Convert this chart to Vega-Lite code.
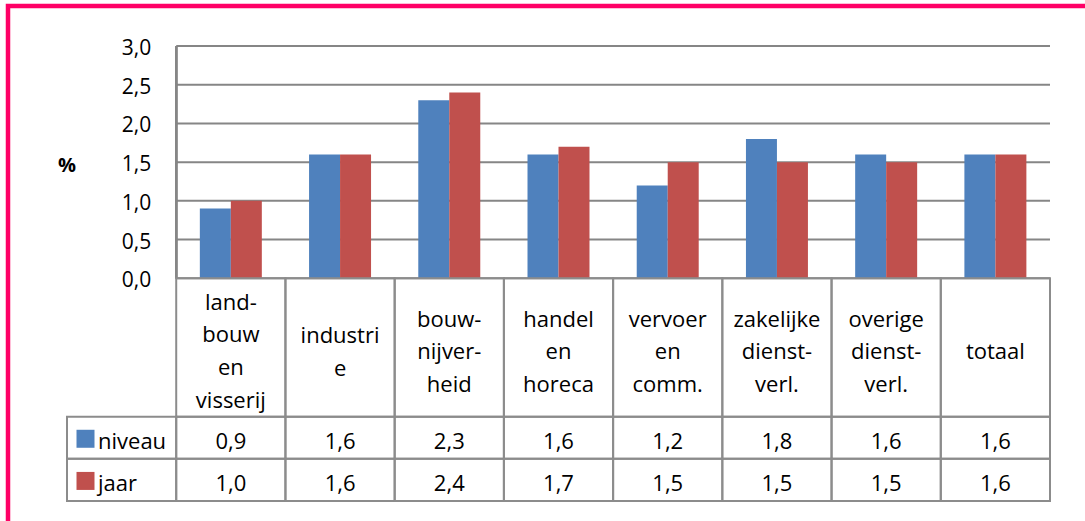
{
  "$schema": "https://vega.github.io/schema/vega-lite/v6.json",
  "width": 1087,
  "height": 525,
  "autosize": {"type": "none"},
  "padding": {"left": 8, "top": 6, "right": -10, "bottom": -10},
  "background": "white",
  "config": {
    "font": "Open Sans",
    "view": {"stroke": "#FF0066", "strokeWidth": 4.5},
    "locale": {"number": {"decimal": ",", "thousands": ".", "grouping": [3], "currency": ["€", ""]}}
  },
  "datasets": {
    "bars": [
      {"cat": "landbouw", "series": "niveau", "value": 0.9},
      {"cat": "landbouw", "series": "jaar", "value": 1.0},
      {"cat": "industrie", "series": "niveau", "value": 1.6},
      {"cat": "industrie", "series": "jaar", "value": 1.6},
      {"cat": "bouw", "series": "niveau", "value": 2.3},
      {"cat": "bouw", "series": "jaar", "value": 2.4},
      {"cat": "handel", "series": "niveau", "value": 1.6},
      {"cat": "handel", "series": "jaar", "value": 1.7},
      {"cat": "vervoer", "series": "niveau", "value": 1.2},
      {"cat": "vervoer", "series": "jaar", "value": 1.5},
      {"cat": "zakelijk", "series": "niveau", "value": 1.8},
      {"cat": "zakelijk", "series": "jaar", "value": 1.5},
      {"cat": "overig", "series": "niveau", "value": 1.6},
      {"cat": "overig", "series": "jaar", "value": 1.5},
      {"cat": "totaal", "series": "niveau", "value": 1.6},
      {"cat": "totaal", "series": "jaar", "value": 1.6}
    ],
    "cats": [
      {"cat": "landbouw", "label": "land-\nbouw\nen\nvisserij"},
      {"cat": "industrie", "label": "industri\ne"},
      {"cat": "bouw", "label": "bouw-\nnijver-\nheid"},
      {"cat": "handel", "label": "handel\nen\nhoreca"},
      {"cat": "vervoer", "label": "vervoer\nen\ncomm."},
      {"cat": "zakelijk", "label": "zakelijke\ndienst-\nverl."},
      {"cat": "overig", "label": "overige\ndienst-\nverl."},
      {"cat": "totaal", "label": "totaal"}
    ],
    "grid": [{"g": 0}, {"g": 0.5}, {"g": 1.0}, {"g": 1.5}, {"g": 2.0}, {"g": 2.5}, {"g": 3.0}],
    "series": [{"series": "niveau"}, {"series": "jaar"}]
  },
  "resolve": {"scale": {"y": "independent"}},
  "layer": [
    {
      "data": {"name": "grid"},
      "mark": {"type": "rule", "color": "#868686", "strokeWidth": 2},
      "encoding": {
        "x": {"datum": "landbouw", "type": "nominal", "bandPosition": 0, "axis": null,
          "scale": {"type": "band", "domain": ["legend", "landbouw", "industrie", "bouw", "handel", "vervoer", "zakelijk", "overig", "totaal"], "paddingInner": 0, "paddingOuter": 0.4761, "align": 0.5673}},
        "x2": {"datum": "totaal", "bandPosition": 1},
        "y": {"field": "g", "type": "quantitative", "axis": null, "scale": {"type": "linear", "domain": [-3.2635, 3.5166], "nice": false, "zero": false}}
      }
    },
    {
      "data": {"name": "grid"},
      "mark": {"type": "rule", "color": "#868686", "strokeWidth": 2},
      "encoding": {
        "x": {"datum": "landbouw", "type": "nominal", "bandPosition": 0, "axis": null,
          "scale": {"type": "band", "domain": ["legend", "landbouw", "industrie", "bouw", "handel", "vervoer", "zakelijk", "overig", "totaal"], "paddingInner": 0, "paddingOuter": 0.4761, "align": 0.5673}},
        "y": {"datum": 0, "type": "quantitative", "axis": null, "scale": {"type": "linear", "domain": [-3.2635, 3.5166], "nice": false, "zero": false}},
        "y2": {"datum": 3}
      }
    },
    {
      "data": {"name": "bars"},
      "mark": {"type": "bar"},
      "encoding": {
        "x": {"field": "cat", "type": "nominal", "axis": null,
          "scale": {"type": "band", "domain": ["legend", "landbouw", "industrie", "bouw", "handel", "vervoer", "zakelijk", "overig", "totaal"], "paddingInner": 0, "paddingOuter": 0.4761, "align": 0.5673}},
        "xOffset": {"field": "series", "type": "nominal", "scale": {"domain": ["niveau", "jaar"], "paddingInner": 0, "paddingOuter": 0.762}},
        "y": {"field": "value", "type": "quantitative", "axis": null, "scale": {"type": "linear", "domain": [-3.2635, 3.5166], "nice": false, "zero": false}},
        "y2": {"datum": 0},
        "color": {"field": "series", "type": "nominal", "legend": null, "scale": {"domain": ["niveau", "jaar"], "range": ["#4F81BD", "#C0504D"]}}
      }
    },
    {
      "data": {"name": "grid"},
      "mark": {"type": "text", "align": "right", "baseline": "middle", "dx": -25, "dy": 3, "fontSize": 21, "color": "#000000"},
      "encoding": {
        "x": {"datum": "landbouw", "type": "nominal", "bandPosition": 0, "axis": null,
          "scale": {"type": "band", "domain": ["legend", "landbouw", "industrie", "bouw", "handel", "vervoer", "zakelijk", "overig", "totaal"], "paddingInner": 0, "paddingOuter": 0.4761, "align": 0.5673}},
        "y": {"field": "g", "type": "quantitative", "axis": null, "scale": {"type": "linear", "domain": [-3.2635, 3.5166], "nice": false, "zero": false}},
        "text": {"field": "g", "type": "quantitative", "format": ".1f"}
      }
    },
    {
      "data": {"values": [{"t": "%"}]},
      "mark": {"type": "text", "align": "center", "baseline": "middle", "dy": 4, "fontSize": 20, "fontWeight": "bold", "color": "#000000"},
      "encoding": {
        "x": {"datum": "legend", "type": "nominal", "bandPosition": 0, "axis": null,
          "scale": {"type": "band", "domain": ["legend", "landbouw", "industrie", "bouw", "handel", "vervoer", "zakelijk", "overig", "totaal"], "paddingInner": 0, "paddingOuter": 0.4761, "align": 0.5673}},
        "y": {"datum": 1.5, "type": "quantitative", "axis": null, "scale": {"type": "linear", "domain": [-3.2635, 3.5166], "nice": false, "zero": false}},
        "text": {"field": "t", "type": "nominal"}
      }
    },
    {
      "data": {"name": "cats"},
      "mark": {"type": "rect", "filled": false, "stroke": "#8c8c8c", "strokeWidth": 2},
      "encoding": {
        "x": {"field": "cat", "type": "nominal", "axis": null,
          "scale": {"type": "band", "domain": ["legend", "landbouw", "industrie", "bouw", "handel", "vervoer", "zakelijk", "overig", "totaal"], "paddingInner": 0, "paddingOuter": 0.4761, "align": 0.5673}},
        "y": {"datum": "header", "type": "nominal", "axis": null, "scale": {"type": "band", "domain": ["header"], "paddingInner": 0, "paddingOuter": 0, "range": [272.3, 410.7]}}
      }
    },
    {
      "data": {"name": "cats"},
      "transform": [{"filter": {"field": "cat", "oneOf": ["landbouw"]}}],
      "mark": {"type": "text", "align": "center", "baseline": "middle", "dy": -45, "fontSize": 22, "lineBreak": "\n", "lineHeight": 32.9, "color": "#000000"},
      "encoding": {
        "x": {"field": "cat", "type": "nominal", "axis": null,
          "scale": {"type": "band", "domain": ["legend", "landbouw", "industrie", "bouw", "handel", "vervoer", "zakelijk", "overig", "totaal"], "paddingInner": 0, "paddingOuter": 0.4761, "align": 0.5673}},
        "y": {"datum": "header", "type": "nominal", "axis": null, "scale": {"type": "band", "domain": ["header"], "paddingInner": 0, "paddingOuter": 0, "range": [272.3, 410.7]}},
        "text": {"field": "label", "type": "nominal"}
      }
    },
    {
      "data": {"name": "cats"},
      "transform": [{"filter": {"field": "cat", "oneOf": ["bouw", "handel", "vervoer", "zakelijk", "overig"]}}],
      "mark": {"type": "text", "align": "center", "baseline": "middle", "dy": -28, "fontSize": 22, "lineBreak": "\n", "lineHeight": 32.9, "color": "#000000"},
      "encoding": {
        "x": {"field": "cat", "type": "nominal", "axis": null,
          "scale": {"type": "band", "domain": ["legend", "landbouw", "industrie", "bouw", "handel", "vervoer", "zakelijk", "overig", "totaal"], "paddingInner": 0, "paddingOuter": 0.4761, "align": 0.5673}},
        "y": {"datum": "header", "type": "nominal", "axis": null, "scale": {"type": "band", "domain": ["header"], "paddingInner": 0, "paddingOuter": 0, "range": [272.3, 410.7]}},
        "text": {"field": "label", "type": "nominal"}
      }
    },
    {
      "data": {"name": "cats"},
      "transform": [{"filter": {"field": "cat", "oneOf": ["industrie"]}}],
      "mark": {"type": "text", "align": "center", "baseline": "middle", "dy": -11.5, "fontSize": 22, "lineBreak": "\n", "lineHeight": 32.9, "color": "#000000"},
      "encoding": {
        "x": {"field": "cat", "type": "nominal", "axis": null,
          "scale": {"type": "band", "domain": ["legend", "landbouw", "industrie", "bouw", "handel", "vervoer", "zakelijk", "overig", "totaal"], "paddingInner": 0, "paddingOuter": 0.4761, "align": 0.5673}},
        "y": {"datum": "header", "type": "nominal", "axis": null, "scale": {"type": "band", "domain": ["header"], "paddingInner": 0, "paddingOuter": 0, "range": [272.3, 410.7]}},
        "text": {"field": "label", "type": "nominal"}
      }
    },
    {
      "data": {"name": "cats"},
      "transform": [{"filter": {"field": "cat", "oneOf": ["totaal"]}}],
      "mark": {"type": "text", "align": "center", "baseline": "middle", "dy": 4, "fontSize": 22, "lineBreak": "\n", "lineHeight": 32.9, "color": "#000000"},
      "encoding": {
        "x": {"field": "cat", "type": "nominal", "axis": null,
          "scale": {"type": "band", "domain": ["legend", "landbouw", "industrie", "bouw", "handel", "vervoer", "zakelijk", "overig", "totaal"], "paddingInner": 0, "paddingOuter": 0.4761, "align": 0.5673}},
        "y": {"datum": "header", "type": "nominal", "axis": null, "scale": {"type": "band", "domain": ["header"], "paddingInner": 0, "paddingOuter": 0, "range": [272.3, 410.7]}},
        "text": {"field": "label", "type": "nominal"}
      }
    },
    {
      "data": {"name": "bars"},
      "mark": {"type": "rect", "filled": false, "stroke": "#8c8c8c", "strokeWidth": 2},
      "encoding": {
        "x": {"field": "cat", "type": "nominal", "axis": null,
          "scale": {"type": "band", "domain": ["legend", "landbouw", "industrie", "bouw", "handel", "vervoer", "zakelijk", "overig", "totaal"], "paddingInner": 0, "paddingOuter": 0.4761, "align": 0.5673}},
        "y": {"field": "series", "type": "nominal", "axis": null, "scale": {"type": "band", "domain": ["niveau", "jaar"], "paddingInner": 0, "paddingOuter": 0, "range": [410.7, 495]}}
      }
    },
    {
      "data": {"name": "bars"},
      "mark": {"type": "text", "align": "center", "baseline": "middle", "dy": 4, "fontSize": 22, "color": "#000000"},
      "encoding": {
        "x": {"field": "cat", "type": "nominal", "axis": null,
          "scale": {"type": "band", "domain": ["legend", "landbouw", "industrie", "bouw", "handel", "vervoer", "zakelijk", "overig", "totaal"], "paddingInner": 0, "paddingOuter": 0.4761, "align": 0.5673}},
        "y": {"field": "series", "type": "nominal", "axis": null, "scale": {"type": "band", "domain": ["niveau", "jaar"], "paddingInner": 0, "paddingOuter": 0, "range": [410.7, 495]}},
        "text": {"field": "value", "type": "quantitative", "format": ".1f"}
      }
    },
    {
      "data": {"name": "series"},
      "mark": {"type": "rect", "filled": false, "stroke": "#8c8c8c", "strokeWidth": 2},
      "encoding": {
        "x": {"datum": "legend", "type": "nominal", "axis": null,
          "scale": {"type": "band", "domain": ["legend", "landbouw", "industrie", "bouw", "handel", "vervoer", "zakelijk", "overig", "totaal"], "paddingInner": 0, "paddingOuter": 0.4761, "align": 0.5673}},
        "y": {"field": "series", "type": "nominal", "axis": null, "scale": {"type": "band", "domain": ["niveau", "jaar"], "paddingInner": 0, "paddingOuter": 0, "range": [410.7, 495]}}
      }
    },
    {
      "data": {"name": "series"},
      "mark": {"type": "point", "shape": "square", "filled": true, "opacity": 1, "size": 324, "xOffset": 18.5, "yOffset": 1},
      "encoding": {
        "x": {"datum": "legend", "type": "nominal", "bandPosition": 0, "axis": null,
          "scale": {"type": "band", "domain": ["legend", "landbouw", "industrie", "bouw", "handel", "vervoer", "zakelijk", "overig", "totaal"], "paddingInner": 0, "paddingOuter": 0.4761, "align": 0.5673}},
        "y": {"field": "series", "type": "nominal", "axis": null, "scale": {"type": "band", "domain": ["niveau", "jaar"], "paddingInner": 0, "paddingOuter": 0, "range": [410.7, 495]}},
        "color": {"field": "series", "type": "nominal", "legend": null, "scale": {"domain": ["niveau", "jaar"], "range": ["#4F81BD", "#C0504D"]}}
      }
    },
    {
      "data": {"name": "series"},
      "mark": {"type": "text", "align": "left", "baseline": "middle", "dx": 31, "dy": 4, "fontSize": 22, "color": "#000000"},
      "encoding": {
        "x": {"datum": "legend", "type": "nominal", "bandPosition": 0, "axis": null,
          "scale": {"type": "band", "domain": ["legend", "landbouw", "industrie", "bouw", "handel", "vervoer", "zakelijk", "overig", "totaal"], "paddingInner": 0, "paddingOuter": 0.4761, "align": 0.5673}},
        "y": {"field": "series", "type": "nominal", "axis": null, "scale": {"type": "band", "domain": ["niveau", "jaar"], "paddingInner": 0, "paddingOuter": 0, "range": [410.7, 495]}},
        "text": {"field": "series", "type": "nominal"}
      }
    }
  ]
}
